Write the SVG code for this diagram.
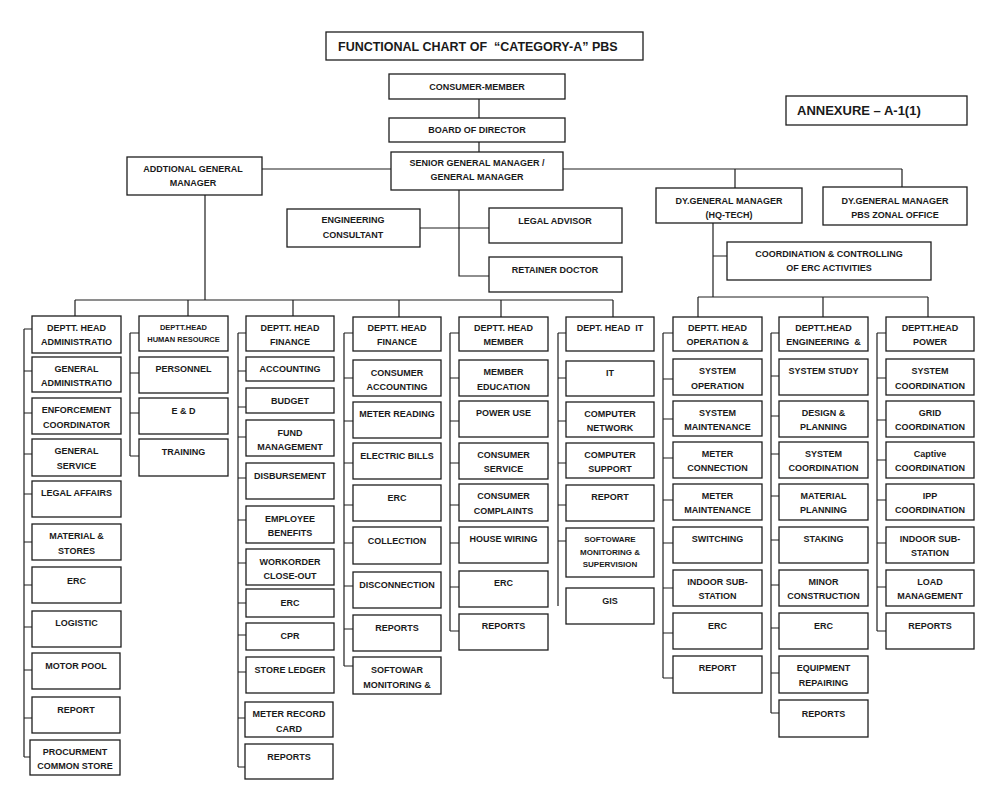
<svg xmlns="http://www.w3.org/2000/svg" width="1000" height="797" viewBox="0 0 1000 797">
<style>
rect.b{fill:#fff;stroke:#1e1e1e;stroke-width:1.3}
text{font-family:"Liberation Sans",Arial,sans-serif;font-weight:bold;font-size:9px;fill:#1a1a1a;text-anchor:middle}
text.s{font-size:7.5px}
text.m{font-size:8px}
text.title{font-size:12.5px;text-anchor:start}
text.ann{font-size:13px;text-anchor:start}
.c path{fill:none;stroke:#1e1e1e;stroke-width:1.2}
</style>
<rect width="1000" height="797" fill="#fff"/>

<g id="title"><rect class="b" x="326" y="32" width="317" height="28"/><text class="title" x="338" y="51">FUNCTIONAL CHART OF&#160; “CATEGORY-A” PBS</text></g>
<g id="annexure"><rect class="b" x="786" y="96" width="181" height="29"/><text class="ann" x="797" y="115">ANNEXURE – A-1(1)</text></g>

<g class="c" id="connectors">
<path d="M479 99V118M479 142V152"/>
<path d="M262 169H391M563 169H902M735 169V188M902 169V187"/>
<path d="M459 190V276H489M420 228H489"/>
<path d="M205 195V300M75 300H613M75 300V316M188 300V316M293 300V316M399 300V317M501 300V317M613 300V317"/>
<path d="M713 223V297M713 256H727M698 297H928M698 297V317M823 297V317M928 297V317"/>
<path d="M24 329V757M24 329H32M24 371H32M24 413H32M24 454H32M24 494H32M24 542H32M24 585H32M24 627H32M24 670H32M24 718H32M24 757H30"/>
<path d="M130 333V456M130 333H139M130 373H139M130 413H139M130 456H139"/>
<path d="M238 333V767M238 333H246M238 371H246M238 407H246M238 437H246M238 478H246M238 520H246M238 563H246M238 603H246M238 635H246M238 672H246M238 718H245M238 767H245"/>
<path d="M344 333V666M344 333H353M344 378H353M344 421H353M344 463H353M344 505H353M344 543H353M344 586H353M344 629H353M344 666H353"/>
<path d="M450 333V631M450 333H459M450 378H459M450 421H459M450 463H459M450 505H459M450 543H459M450 587H459M450 631H459"/>
<path d="M558 333V606M558 333H566M558 378H566M558 421H566M558 463H566M558 505H566M558 541H566"/>
<path d="M663 333V678M663 333H673M663 379H673M663 419H673M663 458H673M663 500H673M663 543H673M663 588H673M663 633H673M663 678H673"/>
<path d="M771 333V713M771 333H779M771 376H779M771 416H779M771 454H779M771 496H779M771 540H779M771 585H779M771 628H779M771 673H779M771 713H779"/>
<path d="M877 333V631M877 333H886M877 378H886M877 420H886M877 460H886M877 500H886M877 543H886M877 587H886M877 631H886"/>
</g>

<g id="consumer-member"><rect class="b" x="389" y="74" width="176" height="25"/><text x="477" y="90">CONSUMER-MEMBER</text></g>
<g id="board"><rect class="b" x="389" y="118" width="176" height="24"/><text x="477" y="133">BOARD OF DIRECTOR</text></g>
<g id="sgm"><rect class="b" x="391" y="152" width="172" height="38"/><text x="477" y="166">SENIOR GENERAL MANAGER /</text><text x="477" y="180">GENERAL MANAGER</text></g>
<g id="agm"><rect class="b" x="127" y="157" width="135" height="38"/><text x="193" y="172">ADDTIONAL GENERAL</text><text x="193" y="186">MANAGER</text></g>
<g id="dgm-hq"><rect class="b" x="656" y="188" width="146" height="35"/><text x="729" y="204">DY.GENERAL MANAGER</text><text x="729" y="218">(HQ-TECH)</text></g>
<g id="dgm-zonal"><rect class="b" x="823" y="187" width="144" height="38"/><text x="895" y="204">DY.GENERAL MANAGER</text><text x="895" y="218">PBS ZONAL OFFICE</text></g>
<g id="eng-consultant"><rect class="b" x="287" y="209" width="133" height="38"/><text x="353" y="223">ENGINEERING</text><text x="353" y="238">CONSULTANT</text></g>
<g id="legal-advisor"><rect class="b" x="489" y="208" width="133" height="35"/><text x="555" y="224">LEGAL ADVISOR</text></g>
<g id="retainer-doctor"><rect class="b" x="489" y="257" width="133" height="35"/><text x="555" y="273">RETAINER DOCTOR</text></g>
<g id="coordination-erc"><rect class="b" x="727" y="242" width="204" height="38"/><text x="829" y="257">COORDINATION &amp; CONTROLLING</text><text x="829" y="271">OF ERC ACTIVITIES</text></g>

<!-- Column 1: Administration -->
<g id="c1-head"><rect class="b" x="32" y="316" width="89" height="37"/><text x="76.5" y="331">DEPTT. HEAD</text><text x="76.5" y="345">ADMINISTRATIO</text></g>
<g id="c1-genadmin"><rect class="b" x="32" y="357" width="89" height="35"/><text x="76.5" y="372">GENERAL</text><text x="76.5" y="386">ADMINISTRATIO</text></g>
<g id="c1-enforcement"><rect class="b" x="32" y="398" width="89" height="36"/><text x="76.5" y="413">ENFORCEMENT</text><text x="76.5" y="428">COORDINATOR</text></g>
<g id="c1-genservice"><rect class="b" x="32" y="439" width="89" height="37"/><text x="76.5" y="454">GENERAL</text><text x="76.5" y="469">SERVICE</text></g>
<g id="c1-legal"><rect class="b" x="32" y="481" width="89" height="36"/><text x="76.5" y="496">LEGAL AFFAIRS</text></g>
<g id="c1-material"><rect class="b" x="32" y="524" width="89" height="36"/><text x="76.5" y="539">MATERIAL &amp;</text><text x="76.5" y="554">STORES</text></g>
<g id="c1-erc"><rect class="b" x="32" y="567" width="89" height="36"/><text x="76.5" y="584">ERC</text></g>
<g id="c1-logistic"><rect class="b" x="32" y="611" width="89" height="36"/><text x="76.5" y="626">LOGISTIC</text></g>
<g id="c1-motorpool"><rect class="b" x="32" y="653" width="88" height="36"/><text x="76" y="669">MOTOR POOL</text></g>
<g id="c1-report"><rect class="b" x="32" y="697" width="88" height="36"/><text x="76" y="713">REPORT</text></g>
<g id="c1-procurment"><rect class="b" x="30" y="740" width="90" height="35"/><text x="75" y="755">PROCURMENT</text><text x="75" y="769">COMMON STORE</text></g>

<!-- Column 2: Human Resource -->
<g id="c2-head"><rect class="b" x="139" y="316" width="89" height="35"/><text class="s" x="183.5" y="330">DEPTT.HEAD</text><text class="s" x="183.5" y="342">HUMAN RESOURCE</text></g>
<g id="c2-personnel"><rect class="b" x="139" y="357" width="89" height="36"/><text x="183.5" y="372">PERSONNEL</text></g>
<g id="c2-ed"><rect class="b" x="139" y="398" width="89" height="36"/><text x="183.5" y="414">E &amp; D</text></g>
<g id="c2-training"><rect class="b" x="139" y="439" width="89" height="37"/><text x="183.5" y="455">TRAINING</text></g>

<!-- Column 3: Finance -->
<g id="c3-head"><rect class="b" x="246" y="316" width="88" height="35"/><text x="290" y="331">DEPTT. HEAD</text><text x="290" y="345">FINANCE</text></g>
<g id="c3-accounting"><rect class="b" x="246" y="357" width="88" height="24"/><text x="290" y="372">ACCOUNTING</text></g>
<g id="c3-budget"><rect class="b" x="246" y="388" width="88" height="25"/><text x="290" y="404">BUDGET</text></g>
<g id="c3-fund"><rect class="b" x="246" y="420" width="88" height="36"/><text x="290" y="436">FUND</text><text x="290" y="450">MANAGEMENT</text></g>
<g id="c3-disbursement"><rect class="b" x="246" y="463" width="88" height="36"/><text x="290" y="479">DISBURSEMENT</text></g>
<g id="c3-employee"><rect class="b" x="246" y="506" width="88" height="37"/><text x="290" y="522">EMPLOYEE</text><text x="290" y="536">BENEFITS</text></g>
<g id="c3-workorder"><rect class="b" x="246" y="549" width="88" height="36"/><text x="290" y="565">WORKORDER</text><text x="290" y="579">CLOSE-OUT</text></g>
<g id="c3-erc"><rect class="b" x="246" y="589" width="88" height="28"/><text x="290" y="606">ERC</text></g>
<g id="c3-cpr"><rect class="b" x="246" y="623" width="88" height="27"/><text x="290" y="639">CPR</text></g>
<g id="c3-storeledger"><rect class="b" x="246" y="657" width="88" height="36"/><text x="290" y="673">STORE LEDGER</text></g>
<g id="c3-meterrecord"><rect class="b" x="245" y="702" width="88" height="35"/><text x="289" y="717">METER RECORD</text><text x="289" y="732">CARD</text></g>
<g id="c3-reports"><rect class="b" x="245" y="744" width="88" height="35"/><text x="289" y="760">REPORTS</text></g>

<!-- Column 4: Finance (consumer) -->
<g id="c4-head"><rect class="b" x="353" y="317" width="88" height="34"/><text x="397" y="331">DEPTT. HEAD</text><text x="397" y="345">FINANCE</text></g>
<g id="c4-consacc"><rect class="b" x="353" y="360" width="88" height="36"/><text x="397" y="376">CONSUMER</text><text x="397" y="390">ACCOUNTING</text></g>
<g id="c4-meterreading"><rect class="b" x="353" y="402" width="88" height="36"/><text x="397" y="417">METER READING</text></g>
<g id="c4-electricbills"><rect class="b" x="353" y="443" width="88" height="36"/><text x="397" y="459">ELECTRIC BILLS</text></g>
<g id="c4-erc"><rect class="b" x="353" y="485" width="88" height="36"/><text x="397" y="501">ERC</text></g>
<g id="c4-collection"><rect class="b" x="353" y="527" width="88" height="37"/><text x="397" y="544">COLLECTION</text></g>
<g id="c4-disconnection"><rect class="b" x="353" y="572" width="88" height="36"/><text x="397" y="588">DISCONNECTION</text></g>
<g id="c4-reports"><rect class="b" x="353" y="615" width="88" height="36"/><text x="397" y="631">REPORTS</text></g>
<g id="c4-softowar"><rect class="b" x="353" y="657" width="88" height="37"/><text x="397" y="673">SOFTOWAR</text><text x="397" y="688">MONITORING &amp;</text></g>

<!-- Column 5: Member -->
<g id="c5-head"><rect class="b" x="459" y="317" width="89" height="34"/><text x="503.5" y="331">DEPTT. HEAD</text><text x="503.5" y="345">MEMBER</text></g>
<g id="c5-education"><rect class="b" x="459" y="360" width="89" height="36"/><text x="503.5" y="375">MEMBER</text><text x="503.5" y="390">EDUCATION</text></g>
<g id="c5-poweruse"><rect class="b" x="459" y="401" width="89" height="36"/><text x="503.5" y="416">POWER USE</text></g>
<g id="c5-service"><rect class="b" x="459" y="443" width="89" height="36"/><text x="503.5" y="458">CONSUMER</text><text x="503.5" y="472">SERVICE</text></g>
<g id="c5-complaints"><rect class="b" x="459" y="484" width="89" height="37"/><text x="503.5" y="499">CONSUMER</text><text x="503.5" y="514">COMPLAINTS</text></g>
<g id="c5-housewiring"><rect class="b" x="459" y="527" width="89" height="36"/><text x="503.5" y="542">HOUSE WIRING</text></g>
<g id="c5-erc"><rect class="b" x="459" y="571" width="89" height="36"/><text x="503.5" y="586">ERC</text></g>
<g id="c5-reports"><rect class="b" x="459" y="614" width="89" height="36"/><text x="503.5" y="629">REPORTS</text></g>

<!-- Column 6: IT -->
<g id="c6-head"><rect class="b" x="566" y="317" width="88" height="34"/><text x="610" y="331">DEPT. HEAD&#160; IT</text></g>
<g id="c6-it"><rect class="b" x="566" y="361" width="88" height="35"/><text x="610" y="376">IT</text></g>
<g id="c6-network"><rect class="b" x="566" y="402" width="88" height="35"/><text x="610" y="417">COMPUTER</text><text x="610" y="431">NETWORK</text></g>
<g id="c6-support"><rect class="b" x="566" y="443" width="88" height="35"/><text x="610" y="458">COMPUTER</text><text x="610" y="472">SUPPORT</text></g>
<g id="c6-report"><rect class="b" x="566" y="485" width="88" height="36"/><text x="610" y="500">REPORT</text></g>
<g id="c6-softoware"><rect class="b" x="566" y="528" width="88" height="49"/><text class="m" x="610" y="542">SOFTOWARE</text><text class="m" x="610" y="555">MONITORING &amp;</text><text class="m" x="610" y="567">SUPERVISION</text></g>
<g id="c6-gis"><rect class="b" x="566" y="588" width="88" height="36"/><text x="610" y="604">GIS</text></g>

<!-- Column 7: Operation -->
<g id="c7-head"><rect class="b" x="673" y="317" width="89" height="34"/><text x="717.5" y="331">DEPTT. HEAD</text><text x="717.5" y="345">OPERATION &amp;</text></g>
<g id="c7-sysop"><rect class="b" x="673" y="359" width="89" height="36"/><text x="717.5" y="374">SYSTEM</text><text x="717.5" y="389">OPERATION</text></g>
<g id="c7-sysmaint"><rect class="b" x="673" y="401" width="89" height="35"/><text x="717.5" y="416">SYSTEM</text><text x="717.5" y="430">MAINTENANCE</text></g>
<g id="c7-meterconn"><rect class="b" x="673" y="442" width="89" height="36"/><text x="717.5" y="457">METER</text><text x="717.5" y="471">CONNECTION</text></g>
<g id="c7-metermaint"><rect class="b" x="673" y="484" width="89" height="36"/><text x="717.5" y="499">METER</text><text x="717.5" y="513">MAINTENANCE</text></g>
<g id="c7-switching"><rect class="b" x="673" y="527" width="89" height="36"/><text x="717.5" y="542">SWITCHING</text></g>
<g id="c7-indoor"><rect class="b" x="673" y="570" width="89" height="36"/><text x="717.5" y="585">INDOOR SUB-</text><text x="717.5" y="599">STATION</text></g>
<g id="c7-erc"><rect class="b" x="673" y="613" width="89" height="36"/><text x="717.5" y="629">ERC</text></g>
<g id="c7-report"><rect class="b" x="673" y="656" width="89" height="37"/><text x="717.5" y="671">REPORT</text></g>

<!-- Column 8: Engineering -->
<g id="c8-head"><rect class="b" x="779" y="317" width="89" height="34"/><text x="823.5" y="331">DEPTT.HEAD</text><text x="823.5" y="345">ENGINEERING&#160; &amp;</text></g>
<g id="c8-sysstudy"><rect class="b" x="779" y="359" width="89" height="36"/><text x="823.5" y="374">SYSTEM STUDY</text></g>
<g id="c8-design"><rect class="b" x="779" y="401" width="89" height="36"/><text x="823.5" y="416">DESIGN &amp;</text><text x="823.5" y="430">PLANNING</text></g>
<g id="c8-syscoord"><rect class="b" x="779" y="442" width="89" height="36"/><text x="823.5" y="457">SYSTEM</text><text x="823.5" y="471">COORDINATION</text></g>
<g id="c8-matplan"><rect class="b" x="779" y="484" width="89" height="36"/><text x="823.5" y="499">MATERIAL</text><text x="823.5" y="513">PLANNING</text></g>
<g id="c8-staking"><rect class="b" x="779" y="527" width="89" height="36"/><text x="823.5" y="542">STAKING</text></g>
<g id="c8-minor"><rect class="b" x="779" y="570" width="89" height="36"/><text x="823.5" y="585">MINOR</text><text x="823.5" y="599">CONSTRUCTION</text></g>
<g id="c8-erc"><rect class="b" x="779" y="613" width="89" height="36"/><text x="823.5" y="629">ERC</text></g>
<g id="c8-equipment"><rect class="b" x="779" y="656" width="89" height="37"/><text x="823.5" y="671">EQUIPMENT</text><text x="823.5" y="686">REPAIRING</text></g>
<g id="c8-reports"><rect class="b" x="779" y="700" width="89" height="37"/><text x="823.5" y="717">REPORTS</text></g>

<!-- Column 9: Power -->
<g id="c9-head"><rect class="b" x="886" y="317" width="88" height="34"/><text x="930" y="331">DEPTT.HEAD</text><text x="930" y="345">POWER</text></g>
<g id="c9-syscoord"><rect class="b" x="886" y="359" width="88" height="36"/><text x="930" y="374">SYSTEM</text><text x="930" y="389">COORDINATION</text></g>
<g id="c9-grid"><rect class="b" x="886" y="401" width="88" height="36"/><text x="930" y="416">GRID</text><text x="930" y="430">COORDINATION</text></g>
<g id="c9-captive"><rect class="b" x="886" y="442" width="88" height="36"/><text x="930" y="457">Captive</text><text x="930" y="471">COORDINATION</text></g>
<g id="c9-ipp"><rect class="b" x="886" y="484" width="88" height="36"/><text x="930" y="499">IPP</text><text x="930" y="513">COORDINATION</text></g>
<g id="c9-indoor"><rect class="b" x="886" y="527" width="88" height="36"/><text x="930" y="542">INDOOR SUB-</text><text x="930" y="556">STATION</text></g>
<g id="c9-load"><rect class="b" x="886" y="570" width="88" height="36"/><text x="930" y="585">LOAD</text><text x="930" y="599">MANAGEMENT</text></g>
<g id="c9-reports"><rect class="b" x="886" y="613" width="88" height="36"/><text x="930" y="629">REPORTS</text></g>
</svg>
